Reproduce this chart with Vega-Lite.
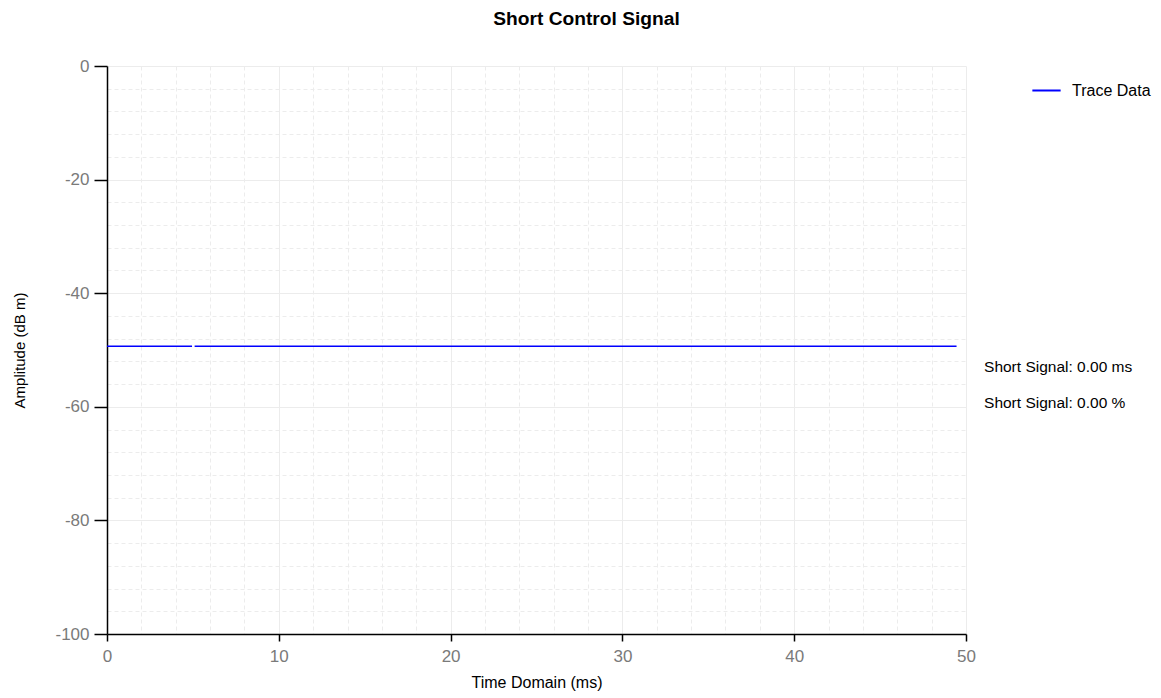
{
  "$schema": "https://vega.github.io/schema/vega-lite/v6.json",
  "autosize": "none",
  "width": 859,
  "height": 568,
  "padding": {"left": 107, "top": 66, "right": 195, "bottom": 64},
  "background": "white",
  "config": {
    "font": "Liberation Sans",
    "view": {"stroke": null},
    "axis": {"labelFont": "Liberation Sans", "titleFont": "Liberation Sans"}
  },
  "title": {
    "text": "Short Control Signal",
    "font": "Liberation Sans",
    "fontSize": 19.2,
    "fontWeight": "bold",
    "color": "#000000",
    "anchor": "middle",
    "dx": 50,
    "offset": 28
  },
  "datasets": {
    "trace": [
      {"t": 0, "amp": -49.35, "seg": "a", "series": "Trace Data"},
      {"t": 4.95, "amp": -49.35, "seg": "a", "series": "Trace Data"},
      {"t": 5.1, "amp": -49.35, "seg": "b", "series": "Trace Data"},
      {"t": 49.45, "amp": -49.35, "seg": "b", "series": "Trace Data"}
    ],
    "notes": [
      {"t": 51.05, "amp": -53.0, "label": "Short Signal: 0.00 ms"},
      {"t": 51.05, "amp": -59.35, "label": "Short Signal: 0.00 %"}
    ]
  },
  "layer": [
    {
      "data": {"name": "trace"},
      "mark": {"type": "line", "strokeWidth": 1.5, "clip": false},
      "encoding": {
        "x": {
          "field": "t",
          "type": "quantitative",
          "scale": {"domain": [0, 50], "nice": false, "zero": false},
          "axis": {
            "title": "Time Domain (ms)",
            "titleFontSize": 16,
            "titleFontWeight": "normal",
            "titleColor": "#000000",
            "titlePadding": 10,
            "values": [0,2,4,6,8,10,12,14,16,18,20,22,24,26,28,30,32,34,36,38,40,42,44,46,48,50],
            "tickCount": 100,
            "labelExpr": "datum.value % 10 === 0 ? ('' + datum.value) : ''",
            "labelOverlap": false,
            "labelFontSize": 17,
            "labelColor": "#7a7a7a",
            "labelPadding": 7,
            "labelFlush": false,
            "domainColor": "#000000",
            "domainWidth": 1.5,
            "tickColor": "#000000",
            "tickSize": 7,
            "tickWidth": 1.5,
            "tickOpacity": {"condition": {"test": "datum.value % 10 === 0", "value": 1}, "value": 0},
            "grid": true,
            "gridColor": "#ececec",
            "gridWidth": 1,
            "gridDash": {"condition": {"test": "datum.value % 10 === 0", "value": []}, "value": [4, 3]}
          }
        },
        "y": {
          "field": "amp",
          "type": "quantitative",
          "scale": {"domain": [-100, 0], "nice": false, "zero": false},
          "axis": {
            "title": "Amplitude (dB m)",
            "titleFontSize": 15,
            "titleFontWeight": "normal",
            "titleColor": "#000000",
            "titlePadding": 27,
            "values": [-100,-96,-92,-88,-84,-80,-76,-72,-68,-64,-60,-56,-52,-48,-44,-40,-36,-32,-28,-24,-20,-16,-12,-8,-4,0],
            "tickCount": 100,
            "labelExpr": "datum.value % 20 === 0 ? ('' + datum.value) : ''",
            "labelOverlap": false,
            "labelFontSize": 17,
            "labelColor": "#7a7a7a",
            "labelPadding": 5,
            "labelFlush": false,
            "domainColor": "#000000",
            "domainWidth": 1.5,
            "tickColor": "#000000",
            "tickSize": 13,
            "tickWidth": 1.5,
            "tickOpacity": {"condition": {"test": "datum.value % 20 === 0", "value": 1}, "value": 0},
            "grid": true,
            "gridColor": "#ececec",
            "gridWidth": 1,
            "gridDash": {"condition": {"test": "datum.value % 20 === 0", "value": []}, "value": [4, 3]}
          }
        },
        "detail": {"field": "seg"},
        "color": {
          "field": "series",
          "type": "nominal",
          "scale": {"range": ["#0000ff"]},
          "legend": {
            "title": null,
            "orient": "none",
            "legendX": 924,
            "legendY": 9,
            "symbolType": "stroke",
            "symbolSize": 800,
            "symbolStrokeWidth": 2,
            "labelOffset": 10,
            "labelFontSize": 16,
            "labelColor": "#000000",
            "labelFont": "Liberation Sans"
          }
        }
      }
    },
    {
      "data": {"name": "notes"},
      "mark": {"type": "text", "align": "left", "baseline": "middle", "fontSize": 15.5, "color": "#000000", "clip": false, "font": "Liberation Sans"},
      "encoding": {
        "x": {"field": "t", "type": "quantitative"},
        "y": {"field": "amp", "type": "quantitative"},
        "text": {"field": "label"}
      }
    }
  ]
}
